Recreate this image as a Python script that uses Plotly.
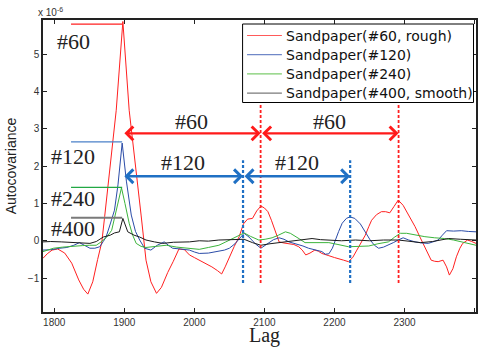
import plotly.graph_objects as go

# Autocovariance of the tactile signal for four sandpaper grits (values in units of 1e-6)
red_lag = [1784, 1790, 1797, 1805, 1815, 1825, 1835, 1842, 1848, 1855, 1862, 1868, 1872, 1888.5, 1898,
           1907, 1924, 1931, 1938, 1946, 1953, 1962, 1970, 1978, 1986, 1993, 2000, 2007, 2016, 2025,
           2033, 2039, 2044, 2050, 2057, 2064, 2070, 2076, 2083, 2089, 2095, 2100, 2105, 2110, 2114,
           2121, 2128, 2135, 2142, 2149, 2154, 2159, 2165, 2172, 2177, 2182, 2187, 2192, 2200, 2207,
           2213, 2220, 2226, 2232, 2238, 2244, 2249, 2253, 2260, 2267, 2273, 2279, 2285, 2291, 2298,
           2305, 2310, 2315, 2322, 2329, 2334, 2338, 2343, 2348, 2355, 2360, 2364, 2369, 2374, 2379,
           2383, 2390, 2396, 2402]
red_val = [-0.47, -0.35, -0.25, -0.22, -0.33, -0.6, -1.05, -1.3, -1.43, -1.1, -0.5, -0.03, 0.65, 3.5, 5.88,
           3.5, 0.69, -0.52, -1.1, -1.41, -1.25, -0.85, -0.55, -0.22, -0.24, -0.38, -0.45, -0.52, -0.6, -0.7,
           -0.8, -0.89, -0.7, -0.43, -0.15, 0.11, 0.45, 0.58, 0.6, 0.8, 0.93, 0.88, 0.78, 0.55, 0.35,
           -0.03, -0.06, -0.07, -0.1, -0.16, -0.25, -0.38, -0.33, -0.25, -0.28, -0.34, -0.38, -0.4, -0.45, -0.48,
           -0.52, -0.56, -0.45, -0.25, -0.05, 0.15, 0.38, 0.55, 0.7, 0.78, 0.78, 0.75, 0.92, 1.09, 0.95,
           0.73, 0.55, 0.38, 0.1, -0.16, -0.38, -0.52, -0.55, -0.56, -0.52, -0.7, -0.92, -0.75, -0.43, -0.2,
           -0.07, 0.02, -0.02, -0.07]

blue_lag = [1784, 1795, 1808, 1818, 1828, 1836, 1843, 1851, 1858, 1865, 1870, 1874, 1880, 1886, 1891,
            1897, 1903, 1910, 1916, 1922, 1929, 1938, 1947, 1957, 1963, 1969, 1980, 1993, 2000, 2007,
            2020, 2035, 2043, 2050, 2058, 2064, 2071, 2078, 2087, 2095, 2100, 2106, 2113, 2121, 2128,
            2135, 2145, 2155, 2163, 2172, 2182, 2187, 2192, 2197, 2201, 2206, 2211, 2217, 2222, 2229,
            2237, 2244, 2251, 2257, 2263, 2270, 2277, 2284, 2291, 2298, 2306, 2315, 2325, 2334, 2342,
            2348, 2354, 2360, 2370, 2381, 2391, 2402]
blue_val = [-0.25, -0.24, -0.2, -0.18, -0.12, -0.05, -0.12, -0.2, -0.2, -0.16, -0.02, 0.1, 0.45, 0.82, 1.5,
            2.62, 1.6, 0.69, 0.25, 0.02, -0.2, -0.25, -0.12, -0.03, -0.12, -0.2, -0.22, -0.25, -0.3, -0.34,
            -0.33, -0.29, -0.25, -0.2, -0.08, 0.05, 0.2, 0.1, -0.08, -0.2, -0.14, -0.07, 0.03, 0.08, 0.04,
            -0.03, -0.08, -0.14, -0.2, -0.24, -0.29, -0.36, -0.35, -0.2, 0.02, 0.25, 0.47, 0.6, 0.64, 0.6,
            0.45, 0.22, 0.02, -0.12, -0.2, -0.17, -0.12, -0.05, 0.02, 0.08, 0.02, -0.03, -0.06, -0.07, -0.02,
            0.02, 0.15, 0.27, 0.26, 0.27, 0.25, 0.24]

green_lag = [1784, 1792, 1799, 1812, 1827, 1840, 1850, 1860, 1867, 1875, 1882, 1888, 1892, 1896, 1901,
             1907, 1912, 1917, 1924, 1931, 1945, 1960, 1975, 1990, 2007, 2020, 2035, 2045, 2054, 2063,
             2071, 2080, 2092, 2101, 2111, 2120, 2130, 2137, 2142, 2150, 2158, 2175, 2192, 2205, 2220,
             2235, 2249, 2262, 2277, 2286, 2294, 2303, 2315, 2329, 2343, 2357, 2370, 2381, 2392, 2402]
green_val = [-0.29, -0.24, -0.2, -0.17, -0.14, -0.13, -0.12, -0.12, -0.03, 0.1, 0.28, 0.8, 1.1, 1.42, 1.0,
             0.47, 0.15, -0.07, -0.15, -0.18, -0.15, -0.12, -0.17, -0.2, -0.23, -0.18, -0.12, -0.03, 0.06, 0.15,
             0.21, 0.12, 0.02, 0.04, 0.08, 0.15, 0.24, 0.2, 0.15, 0.05, -0.05, -0.05, -0.05, -0.1, -0.16,
             -0.15, -0.14, -0.08, -0.03, 0.1, 0.2, 0.2, 0.15, 0.11, 0.08, 0.06, 0.02, -0.03, -0.08, -0.12]

black_lag = [1784, 1795, 1810, 1825, 1840, 1851, 1860, 1870, 1880, 1886, 1893, 1898, 1905, 1914, 1922,
             1931, 1943, 1955, 1970, 1985, 1993, 2007, 2020, 2035, 2050, 2060, 2071, 2083, 2095, 2108,
             2121, 2135, 2149, 2160, 2168, 2180, 2192, 2210, 2230, 2250, 2270, 2291, 2305, 2323, 2340,
             2355, 2363, 2380, 2395, 2402]
black_val = [-0.03, -0.02, -0.03, -0.04, -0.05, -0.07, -0.02, 0.1, 0.15, 0.21, 0.24, 0.6, 0.24, 0.15, 0.1,
             0.02, -0.03, -0.07, -0.04, -0.03, -0.03, 0.0, -0.01, 0.02, 0.02, 0.03, 0.04, -0.05, -0.12, -0.08,
             -0.05, -0.01, 0.02, 0.04, 0.06, 0.03, 0.02, 0.0, 0.02, 0.0, 0.02, 0.02, -0.01, -0.05, -0.02,
             0.03, 0.06, 0.04, 0.02, 0.02]

series_names = ["Sandpaper(#60, rough)", "Sandpaper(#120)", "Sandpaper(#240)", "Sandpaper(#400, smooth)"]
series_colors = ["#ff2020", "#2b4ca8", "#3cb43c", "#1a1a1a"]
legend_colors = ["#ff5a5a", "#7088c8", "#7ccc6c", "#7a7a7a"]

# peak heights marked with a grit label on the left
grit_labels = ["#60", "#120", "#240", "#400"]
peak_heights = [5.81, 2.65, 1.43, 0.62]
peak_lag = 1897
label_lag_start = 1824
label_text_y = [5.34, 2.25, 1.14, 0.33]
peak_line_colors = ["#ff2020", "#4a80c8", "#22a844", "#7a7a7a"]
peak_line_widths = [1.2, 1.2, 1.2, 2]

# periodicity marks: successive autocovariance peaks
period_60 = [1898, 2094.6, 2291.5]
period_120 = [1898, 2069.5, 2222.4]
arrow_y_60 = 2.88
arrow_y_120 = 1.73
period_label_y_60 = 3.19
period_label_y_120 = 2.09
dash_top_60 = 3.64
dash_top_120 = 2.16
dash_bottom = -1.13

x_ticks = [1800, 1900, 2000, 2100, 2200, 2300, 2400]
y_ticks = [-1, 0, 1, 2, 3, 4, 5]

# figure geometry (pixels)
W, H = 478, 349
ML, MR, MT, MB = 43, 0, 20, 37
PW, PH = W - ML - MR, H - MT - MB


def px(xp):
    return (xp - ML) / PW


def py(yp):
    return (H - MB - yp) / PH


fig = go.Figure()
for lag, val, name, color in zip([red_lag, blue_lag, green_lag, black_lag],
                                 [red_val, blue_val, green_val, black_val],
                                 series_names, series_colors):
    fig.add_trace(go.Scatter(x=lag, y=val, mode="lines", name=name, showlegend=False,
                             line=dict(color=color, width=1)))

serif = "Liberation Serif"
shapes = []
annotations = []

# horizontal guide lines and grit labels at each peak
for lbl, h, ty, c, w in zip(grit_labels, peak_heights, label_text_y, peak_line_colors, peak_line_widths):
    shapes.append(dict(type="line", xref="x", yref="y", x0=label_lag_start, x1=peak_lag, y0=h, y1=h,
                       line=dict(color=c, width=w)))
    annotations.append(dict(x=label_lag_start + 3, y=ty, xref="x", yref="y", text=lbl, showarrow=False,
                            xanchor="center", yanchor="middle",
                            font=dict(family=serif, size=22, color="#222222")))

# dashed verticals at the repeated peaks
for xv in period_60[1:]:
    shapes.append(dict(type="line", xref="x", yref="y", x0=xv, x1=xv, y0=dash_bottom, y1=dash_top_60,
                       line=dict(color="#ff2020", width=1.8, dash="3px,2px")))
for xv in period_120[1:]:
    shapes.append(dict(type="line", xref="x", yref="y", x0=xv, x1=xv, y0=dash_bottom, y1=dash_top_120,
                       line=dict(color="#1f70c4", width=2.2, dash="3px,2px")))

# double-headed arrows spanning each period
for marks, ay, ly, lbl, col in [(period_60, arrow_y_60, period_label_y_60, "#60", "#ff1a1a"),
                                (period_120, arrow_y_120, period_label_y_120, "#120", "#1f70c4")]:
    for a, b in zip(marks[:-1], marks[1:]):
        annotations.append(dict(x=b, y=ay, ax=a, ay=ay, xref="x", yref="y", axref="x", ayref="y",
                                text="", showarrow=True, arrowside="end+start",
                                arrowhead=4, startarrowhead=4, arrowsize=1.1, startarrowsize=1.1,
                                arrowwidth=2.4, arrowcolor=col, standoff=0, startstandoff=0))
        annotations.append(dict(x=(a + b) / 2, y=ly, xref="x", yref="y", text=lbl, showarrow=False,
                                xanchor="center", yanchor="middle",
                                font=dict(family=serif, size=22, color="#222222")))

# boxed legend in the upper right
leg_left, leg_right, leg_top, leg_bottom = 243.5, 475.5, 24, 102.5
shapes.append(dict(type="rect", xref="paper", yref="paper", x0=px(leg_left), x1=px(leg_right),
                   y0=py(leg_bottom), y1=py(leg_top), fillcolor="white",
                   line=dict(color="#000000", width=1), layer="above"))
for i, (name, lc) in enumerate(zip(series_names, legend_colors)):
    yc = 35.5 + 19.2 * i
    shapes.append(dict(type="line", xref="paper", yref="paper", x0=px(248), x1=px(283),
                       y0=py(yc), y1=py(yc), line=dict(color=lc, width=1.2), layer="above"))
    annotations.append(dict(x=px(285.5), y=py(yc), xref="paper", yref="paper", text=name,
                            showarrow=False, xanchor="left", yanchor="middle",
                            font=dict(family="DejaVu Sans", size=14, color="#111111")))

# axis scale factor
annotations.append(dict(x=px(65), y=py(12), xref="paper", yref="paper", text="x 10<sup>-6</sup>",
                        showarrow=False, xanchor="right", yanchor="middle",
                        font=dict(family="Liberation Sans", size=10, color="#333333")))

# x-axis title
annotations.append(dict(x=px(266), y=py(335.5), xref="paper", yref="paper", text="Lag",
                        showarrow=False, xanchor="center", yanchor="middle",
                        font=dict(family=serif, size=20, color="#222222")))

fig.update_layout(
    width=W, height=H,
    margin=dict(l=ML, r=MR, t=MT, b=MB),
    paper_bgcolor="white", plot_bgcolor="white",
    shapes=shapes, annotations=annotations,
    showlegend=False,
    xaxis=dict(range=[1784, 2402], tickvals=x_ticks, ticktext=[str(t) for t in x_ticks],
               showgrid=False, zeroline=False, showline=True, linecolor="#222222", linewidth=1.5,
               mirror="ticks", ticks="inside", ticklen=4, tickcolor="#222222",
               tickfont=dict(family="Liberation Sans", size=10, color="#333333")),
    yaxis=dict(range=[-1.91, 5.92], tickvals=y_ticks, ticktext=["\u22121"] + [str(t) for t in y_ticks[1:]],
               showgrid=False, zeroline=False, showline=True, linecolor="#222222", linewidth=1.5,
               mirror="ticks", ticks="inside", ticklen=4, tickcolor="#222222",
               tickfont=dict(family="Liberation Sans", size=10, color="#333333"),
               title=dict(text="Autocovariance", font=dict(family="Liberation Sans", size=14, color="#222222"),
                          standoff=8)),
)

fig.write_html("out.html", config={"displayModeBar": False})
